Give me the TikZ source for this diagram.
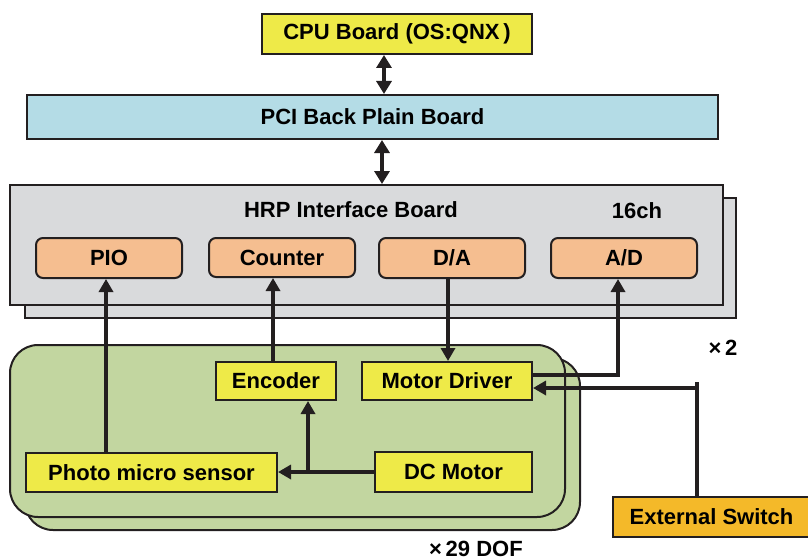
\documentclass[tikz,border=0pt]{standalone}
\usepackage{fontspec}
\setmainfont{Liberation Sans}
\usetikzlibrary{arrows.meta,calc}
\definecolor{cyel}{HTML}{EEEA48}
\definecolor{cblue}{HTML}{B4DCE6}
\definecolor{cgrey}{HTML}{D9DADC}
\definecolor{csal}{HTML}{F5BE90}
\definecolor{cgreen}{HTML}{C2D6A0}
\definecolor{corange}{HTML}{F4B929}
\definecolor{cink}{HTML}{231F20}
\tikzset{
  base/.style={draw=cink, line width=2pt, inner sep=0pt, anchor=center},
  yelbox/.style={base, fill=cyel},
  salbox/.style={base, fill=csal, rounded corners=7pt, minimum width=146pt, minimum height=40pt},
  conn/.style={draw=cink, line width=3.5pt},
  arr/.style={conn, -{Triangle[length=13pt,width=14pt]}},
  dbl/.style={conn, {Triangle[length=13pt,width=15pt]}-{Triangle[length=13pt,width=15pt]}},
  lbl/.style={inner sep=0pt, anchor=center}
}
\begin{document}
\begin{tikzpicture}[x=1pt,y=-1pt,font=\bfseries\fontsize{22}{24}\selectfont]
\useasboundingbox (0,0) rectangle (808,559);
% top boards
\node[yelbox, minimum width=270pt, minimum height=40pt] (cpu) at (397,34) {CPU Board (OS:QNX\,)};
\node[base, fill=cblue, minimum width=691pt, minimum height=44pt] (pci) at (372.5,117) {PCI Back Plain Board};
% HRP interface board
\node[base, fill=cgrey, minimum width=711pt, minimum height=120pt] (hrps) at (380,258) {};
\node[base, fill=cgrey, minimum width=713pt, minimum height=120pt] (hrp) at (366.5,245) {};
\node[lbl] (hrpt) at (351,210) {HRP Interface Board};
\node[lbl] (ch) at (637,211) {16ch};
\node[salbox] (pio) at (109,258) {PIO};
\node[salbox, minimum height=39pt] (cnt) at (282,257.5) {Counter};
\node[salbox] (da) at (452,258) {D/A};
\node[salbox] (ad) at (624,258) {A/D};
\node[lbl] (x2) at (723,348) {×\,2};
% DOF board
\node[base, fill=cgreen, rounded corners=28pt, minimum width=555pt, minimum height=172pt] (dofs) at (302.5,444) {};
\node[base, fill=cgreen, rounded corners=28pt, minimum width=555pt, minimum height=172pt] (dof) at (287.5,431) {};
\node[yelbox, minimum width=120pt, minimum height=38pt] (enc) at (276,381) {Encoder};
\node[yelbox, minimum width=170pt, minimum height=38pt] (md) at (447,381) {Motor Driver};
\node[yelbox, minimum width=251pt, minimum height=39pt] (photo) at (151.5,472.5) {Photo micro sensor};
\node[yelbox, minimum width=157pt, minimum height=40pt] (dc) at (453.5,472) {DC Motor};
\node[inner sep=0pt, anchor=base] (dofn) at (476,556) {×\,29 DOF};
\node[base, fill=corange, minimum width=197pt, minimum height=40pt] (esw) at (711.5,517) {External Switch};
% connectors
\coordinate (a1) at (384,0);
\coordinate (a2) at (382,0);
\draw[dbl] (a1 |- cpu.south) -- (a1 |- pci.north);
\draw[dbl] (a2 |- pci.south) -- (a2 |- hrp.north);
\coordinate (xp) at (106,0);
\coordinate (xc) at (273,0);
\coordinate (xd) at (448,0);
\draw[arr] (xp |- photo.north) -- (xp |- pio.south);
\draw[arr] (xc |- enc.north) -- (xc |- cnt.south);
\draw[arr] (xd |- da.south) -- (xd |- md.north);
\coordinate (adx) at (618,375);
\draw[arr] (md.east |- adx) -| (adx |- ad.south);
\coordinate (br) at (308,472);
\draw[arr] (dc.west |- br) -- (photo.east |- br);
\draw[arr] (br) -- (br |- enc.south);
\coordinate (esx) at (697,388);
\draw[conn] (esw.north -| esx) -- ($(esx)+(0,-6)$);
\draw[arr] (esx) -- (md.east |- esx);
\end{tikzpicture}
\end{document}
